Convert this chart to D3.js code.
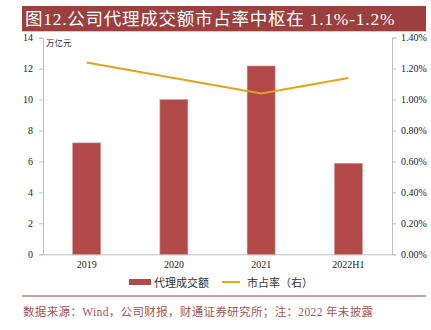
<!DOCTYPE html>
<html><head><meta charset="utf-8">
<script src="https://cdn.jsdelivr.net/npm/d3@7"></script>
<style>body{margin:0;background:#fff}svg{display:block}</style>
</head><body>
<script>
const categories = ["2019","2020","2021","2022H1"];
const volume = [7.2, 10.0, 12.17, 5.88];
const share = [0.0124, 0.0114, 0.0104, 0.0114];
const leftTicks = [0,2,4,6,8,10,12,14];
const rightTicks = [0,0.002,0.004,0.006,0.008,0.010,0.012,0.014];
const title = "图12.公司代理成交额市占率中枢在 1.1%-1.2%";
const unitLabel = "万亿元";
const legendNames = ["代理成交额","市占率（右）"];
const source = "数据来源：Wind，公司财报，财通证券研究所；注：2022 年未披露";

const W=431,H=330;
const svg=d3.select("body").append("svg").attr("width",W).attr("height",H);
const serif="'Liberation Serif','Times New Roman',serif";
const cjk="'Noto Sans CJK SC',sans-serif";
const red="#b24a4a", gold="#e3a21a", axisCol="#bfbfbf", dark="#9b3f3f";

// title bar
svg.append("rect").attr("x",22).attr("y",6).attr("width",404).attr("height",25).attr("fill",dark);
svg.append("line").attr("x1",22).attr("x2",426).attr("y1",31.5).attr("y2",31.5).attr("stroke","#e9c4c4").attr("stroke-width",1);
svg.append("text").attr("x",25).attr("y",25).attr("fill","#fff").attr("font-family",serif+","+cjk).attr("font-size",17.5).attr("letter-spacing",0.75).text(title);

const x=d3.scaleBand().domain(categories).range([43,392]).paddingInner(0.68).paddingOuter(0.34);
const yL=d3.scaleLinear().domain([0,14]).range([254.3,37.7]);
const yR=d3.scaleLinear().domain([0,0.014]).range([254.3,37.7]);

const gL=svg.append("g").attr("transform","translate(43,0)").call(d3.axisLeft(yL).tickValues(leftTicks).tickSize(4).tickPadding(6).tickFormat(d3.format("d")));
const gR=svg.append("g").attr("transform","translate(392,0)").call(d3.axisRight(yR).tickValues(rightTicks).tickSize(4).tickPadding(5).tickFormat(d3.format(".2%")));
const gB=svg.append("g").attr("transform","translate(0,254.3)").call(d3.axisBottom(x).tickSize(0).tickPadding(7));
[gL,gR,gB].forEach(g=>{
  g.selectAll("path,line").attr("stroke",axisCol);
  g.selectAll("text").attr("font-family",serif).attr("font-size",10).attr("fill","#222");
});
gB.select(".domain").attr("d","M43,0.5H392");

svg.append("text").attr("x",46).attr("y",46).attr("font-family",cjk).attr("font-size",8.5).attr("fill","#333").text(unitLabel);

svg.selectAll("rect.bar").data(volume).enter().append("rect").attr("class","bar")
  .attr("x",(d,i)=>x(categories[i])).attr("width",x.bandwidth())
  .attr("y",d=>yL(d)).attr("height",d=>yL(0)-yL(d))
  .attr("fill",red).attr("stroke","#d49090").attr("stroke-width",0.6);

const line=d3.line().x((d,i)=>x(categories[i])+x.bandwidth()/2).y(d=>yR(d));
svg.append("path").datum(share).attr("d",line).attr("fill","none").attr("stroke",gold).attr("stroke-width",2);

// legend
svg.append("rect").attr("x",129).attr("y",279).attr("width",22).attr("height",6).attr("fill",red);
svg.append("text").attr("x",154).attr("y",286.5).attr("font-family",cjk).attr("font-size",11).attr("fill","#333").text(legendNames[0]);
svg.append("line").attr("x1",222).attr("x2",240).attr("y1",282).attr("y2",282).attr("stroke",gold).attr("stroke-width",2);
svg.append("text").attr("x",247).attr("y",286.5).attr("font-family",cjk).attr("font-size",11).attr("fill","#333").text(legendNames[1]);

svg.append("line").attr("x1",22).attr("x2",426).attr("y1",296).attr("y2",296).attr("stroke",dark).attr("stroke-width",1);
svg.append("text").attr("x",23).attr("y",316).attr("font-family",serif+","+cjk).attr("font-size",11.5).attr("letter-spacing",0.35).attr("fill","#a35353").text(source);
</script>
</body></html>
